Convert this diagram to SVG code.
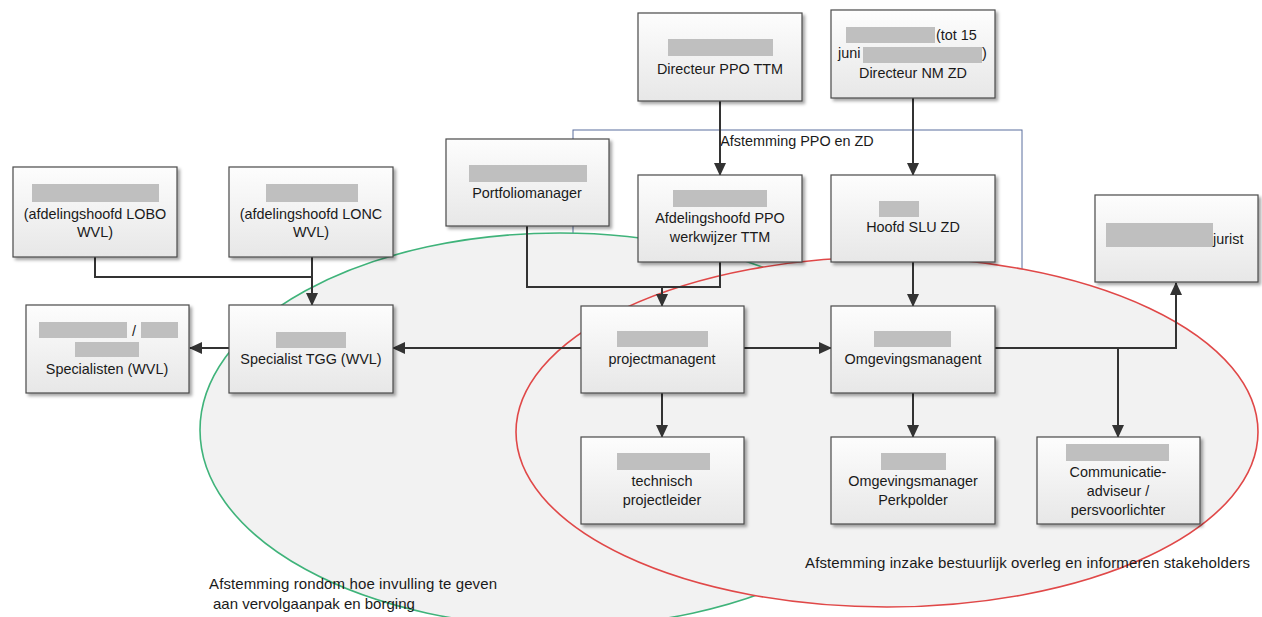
<svg xmlns="http://www.w3.org/2000/svg" width="1262" height="617" viewBox="0 0 1262 617">
<defs>
<linearGradient id="boxg" x1="0" y1="0" x2="0" y2="1">
<stop offset="0" stop-color="#fdfdfd"/>
<stop offset="1" stop-color="#e7e7e7"/>
</linearGradient>
<filter id="sh" x="-10%" y="-10%" width="125%" height="130%">
<feDropShadow dx="2.5" dy="2.5" stdDeviation="1.5" flood-color="#000" flood-opacity="0.35"/>
</filter>
<marker id="ah" markerUnits="userSpaceOnUse" markerWidth="14" markerHeight="14" viewBox="0 0 14 14" refX="12" refY="7" orient="auto">
<path d="M0,1 L13,7 L0,13 Z" fill="#333"/>
</marker>
<style>
.box{fill:url(#boxg);stroke:#4a4a4a;stroke-width:1.2;filter:url(#sh)}
.bar{fill:#bfbfbf}
.t{font-family:"Liberation Sans",Arial,sans-serif;font-size:14.4px;fill:#1a1a1a;text-anchor:middle}
.ts{font-family:"Liberation Sans",Arial,sans-serif;font-size:14.4px;fill:#1a1a1a}
.lb{font-family:"Liberation Sans",Arial,sans-serif;font-size:15px;fill:#1a1a1a}
.c{fill:none;stroke:#333;stroke-width:2}
.ca{fill:none;stroke:#333;stroke-width:2;marker-end:url(#ah)}
</style>
</defs>
<rect width="1262" height="617" fill="#fff"/>
<g id="groups">
<rect x="573" y="130" width="449" height="160" fill="#fff" stroke="#5b6e9e" stroke-width="1"/>
<ellipse cx="560" cy="430" rx="360" ry="197" fill="#f2f2f2" stroke="#3fb37a" stroke-width="1.6"/>
<ellipse cx="887" cy="432" rx="371" ry="175" fill="#f2f2f2" stroke="#e04848" stroke-width="1.6"/>
<text class="t" x="797" y="146">Afstemming PPO en ZD</text>
<text class="lb" x="805" y="568" textLength="445">Afstemming inzake bestuurlijk overleg en informeren stakeholders</text>
<text class="lb" x="209" y="589" textLength="288">Afstemming rondom hoe invulling te geven</text>
<text class="lb" x="213" y="609">aan vervolgaanpak en borging</text>
</g>
<g id="connectors">
<path class="ca" d="M720,101 V175"/>
<path class="ca" d="M913,98 V175"/>
<path class="c" d="M95,257 V277 H312"/>
<path class="ca" d="M312,257 V305"/>
<path class="ca" d="M229,348 H190"/>
<path class="ca" d="M581,348 H393"/>
<path class="c" d="M527,226 V287 H720 V262"/>
<path class="ca" d="M662,287 V306"/>
<path class="ca" d="M913,262 V306"/>
<path class="ca" d="M744,348 H831"/>
<path class="ca" d="M995,348 H1176 V283"/>
<path class="ca" d="M1118,348 V437"/>
<path class="ca" d="M662,393 V437"/>
<path class="ca" d="M913,393 V437"/>
</g>
<g id="n-dir-ppo">
<rect class="box" x="638" y="13" width="164" height="88"/>
<rect class="bar" x="668" y="39" width="105" height="17"/>
<text class="t" x="720" y="74">Directeur PPO TTM</text>
</g>
<g id="n-dir-nm">
<rect class="box" x="831" y="10" width="164" height="88"/>
<rect class="bar" x="846" y="27" width="89" height="16"/>
<text class="ts" x="936" y="40">(tot 15</text>
<text class="ts" x="838" y="58">juni</text>
<rect class="bar" x="863" y="47" width="119" height="16"/>
<text class="ts" x="982" y="58">)</text>
<text class="t" x="913" y="78">Directeur NM ZD</text>
</g>
<g id="n-lobo">
<rect class="box" x="13" y="167" width="164" height="90"/>
<rect class="bar" x="32" y="184" width="127" height="18"/>
<text class="t" x="95" y="219">(afdelingshoofd LOBO</text>
<text class="t" x="95" y="237">WVL)</text>
</g>
<g id="n-lonc">
<rect class="box" x="229" y="167" width="164" height="90"/>
<rect class="bar" x="266" y="184" width="92" height="18"/>
<text class="t" x="311" y="219">(afdelingshoofd LONC</text>
<text class="t" x="311" y="237">WVL)</text>
</g>
<g id="n-specialisten">
<rect class="box" x="26" y="305" width="163" height="88"/>
<rect class="bar" x="39" y="322" width="88" height="16"/>
<text class="t" x="134" y="336">/</text>
<rect class="bar" x="141" y="322" width="37" height="16"/>
<rect class="bar" x="75" y="342" width="64" height="15"/>
<text class="t" x="107" y="374">Specialisten (WVL)</text>
</g>
<g id="n-tgg">
<rect class="box" x="229" y="305" width="164" height="88"/>
<rect class="bar" x="276" y="332" width="70" height="16"/>
<text class="t" x="311" y="364">Specialist TGG (WVL)</text>
</g>
<g id="n-portfolio">
<rect class="box" x="446" y="139" width="163" height="87"/>
<rect class="bar" x="469" y="165" width="118" height="17"/>
<text class="t" x="527" y="198">Portfoliomanager</text>
</g>
<g id="n-afd-ppo">
<rect class="box" x="638" y="175" width="164" height="87"/>
<rect class="bar" x="673" y="190" width="94" height="17"/>
<text class="t" x="720" y="223">Afdelingshoofd PPO</text>
<text class="t" x="720" y="242">werkwijzer TTM</text>
</g>
<g id="n-hoofd-slu">
<rect class="box" x="831" y="175" width="164" height="87"/>
<rect class="bar" x="879" y="201" width="40" height="16"/>
<text class="t" x="913" y="232">Hoofd SLU ZD</text>
</g>
<g id="n-jurist">
<rect class="box" x="1095" y="195" width="163" height="87"/>
<rect class="bar" x="1106" y="223" width="107" height="24"/>
<text class="ts" x="1213" y="244">jurist</text>
</g>
<g id="n-projectmanagent">
<rect class="box" x="581" y="306" width="163" height="87"/>
<rect class="bar" x="617" y="331" width="91" height="16"/>
<text class="t" x="662" y="364">projectmanagent</text>
</g>
<g id="n-omgevingsmanagent">
<rect class="box" x="831" y="306" width="164" height="87"/>
<rect class="bar" x="874" y="331" width="77" height="16"/>
<text class="t" x="913" y="364">Omgevingsmanagent</text>
</g>
<g id="n-technisch">
<rect class="box" x="581" y="437" width="163" height="87"/>
<rect class="bar" x="617" y="453" width="93" height="17"/>
<text class="t" x="662" y="486">technisch</text>
<text class="t" x="662" y="505">projectleider</text>
</g>
<g id="n-perkpolder">
<rect class="box" x="831" y="437" width="164" height="87"/>
<rect class="bar" x="881" y="453" width="65" height="17"/>
<text class="t" x="913" y="486">Omgevingsmanager</text>
<text class="t" x="913" y="505">Perkpolder</text>
</g>
<g id="n-communicatie">
<rect class="box" x="1037" y="437" width="163" height="87"/>
<rect class="bar" x="1066" y="444" width="103" height="17"/>
<text class="t" x="1118" y="477">Communicatie-</text>
<text class="t" x="1118" y="496">adviseur /</text>
<text class="t" x="1118" y="515">persvoorlichter</text>
</g>
</svg>
